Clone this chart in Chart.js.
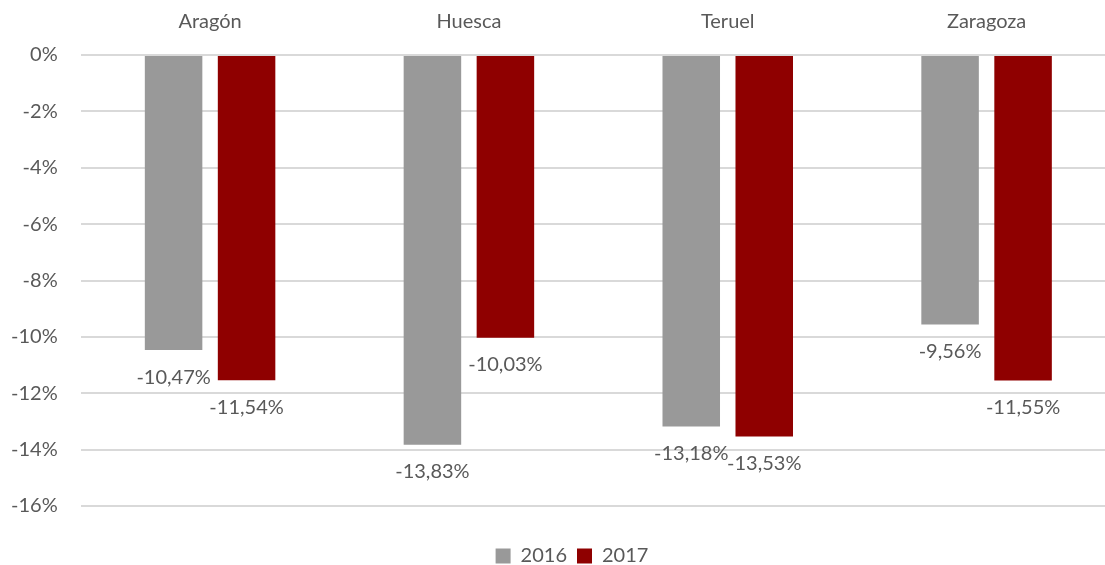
<!DOCTYPE html>
<html>
<head>
<meta charset="utf-8">
<script src="https://cdn.jsdelivr.net/npm/chart.js@4"></script>
<style>
  html, body { margin: 0; padding: 0; background: #fff; overflow: hidden; }
  #wrap { width: 1105px; height: 565px; overflow: hidden; }
</style>
</head>
<body>
<div id="wrap"><canvas id="chart" width="1117" height="565"></canvas></div>
<script>
// Data
const categories = ['Aragón', 'Huesca', 'Teruel', 'Zaragoza'];
const values2016 = [-10.47, -13.83, -13.18, -9.56];
const values2017 = [-11.54, -10.03, -13.53, -11.55];
const seriesNames = ['2016', '2017'];

const textColor = '#595959';
const fontFamily = 'Lato, "Liberation Sans", sans-serif';
const fontSize = 20;

// labels under the end of each bar, with a comma decimal
const barLabels = {
    id: 'barLabels',
    afterDatasetsDraw(chart) {
        const c = chart.ctx;
        c.save();
        c.font = fontSize + 'px ' + fontFamily;
        c.fillStyle = textColor;
        c.textAlign = 'center';
        c.textBaseline = 'middle';
        chart.data.datasets.forEach((ds, i) => {
            chart.getDatasetMeta(i).data.forEach((bar, j) => {
                const txt = ds.data[j].toFixed(2).replace('.', ',') + '%';
                c.fillText(txt, bar.x, bar.y + 27);
            });
        });
        c.restore();
    }
};

// nudge the legend a bit to the right, like the original
const legendShift = {
    id: 'legendShift',
    afterLayout(chart) {
        chart.legend.left += 20;
        chart.legend.right += 20;
    }
};

new Chart(document.getElementById('chart'), {
    type: 'bar',
    data: {
        labels: categories,
        datasets: [{
            label: seriesNames[0],
            data: values2016,
            backgroundColor: '#999999',
            categoryPercentage: 0.564,
            barPercentage: 0.788
        }, {
            label: seriesNames[1],
            data: values2017,
            backgroundColor: '#8f0000',
            categoryPercentage: 0.564,
            barPercentage: 0.788
        }]
    },
    options: {
        responsive: false,
        animation: false,
        layout: { padding: { left: -12, right: 1, top: -11, bottom: -11 } },
        plugins: {
            legend: {
                position: 'bottom',
                title: { display: true, text: '', font: { size: 10 }, padding: { top: 0, bottom: 18 } },
                labels: {
                    color: textColor,
                    font: { family: fontFamily, size: fontSize },
                    boxWidth: 15,
                    boxHeight: 15,
                    padding: 10
                }
            },
            tooltip: { enabled: false }
        },
        scales: {
            x: {
                position: 'top',
                grid: { display: false, drawTicks: false },
                border: { display: false },
                ticks: {
                    color: textColor,
                    font: { family: fontFamily, size: fontSize },
                    padding: 21
                }
            },
            y: {
                min: -16,
                max: 0,
                grid: { color: '#d9d9d9', lineWidth: 2, drawTicks: false },
                border: { display: false },
                ticks: {
                    stepSize: 2,
                    color: textColor,
                    font: { family: fontFamily, size: fontSize },
                    padding: 23,
                    callback: function(value) { return value + '%'; }
                }
            }
        }
    },
    plugins: [barLabels, legendShift]
});
</script>
</body>
</html>
